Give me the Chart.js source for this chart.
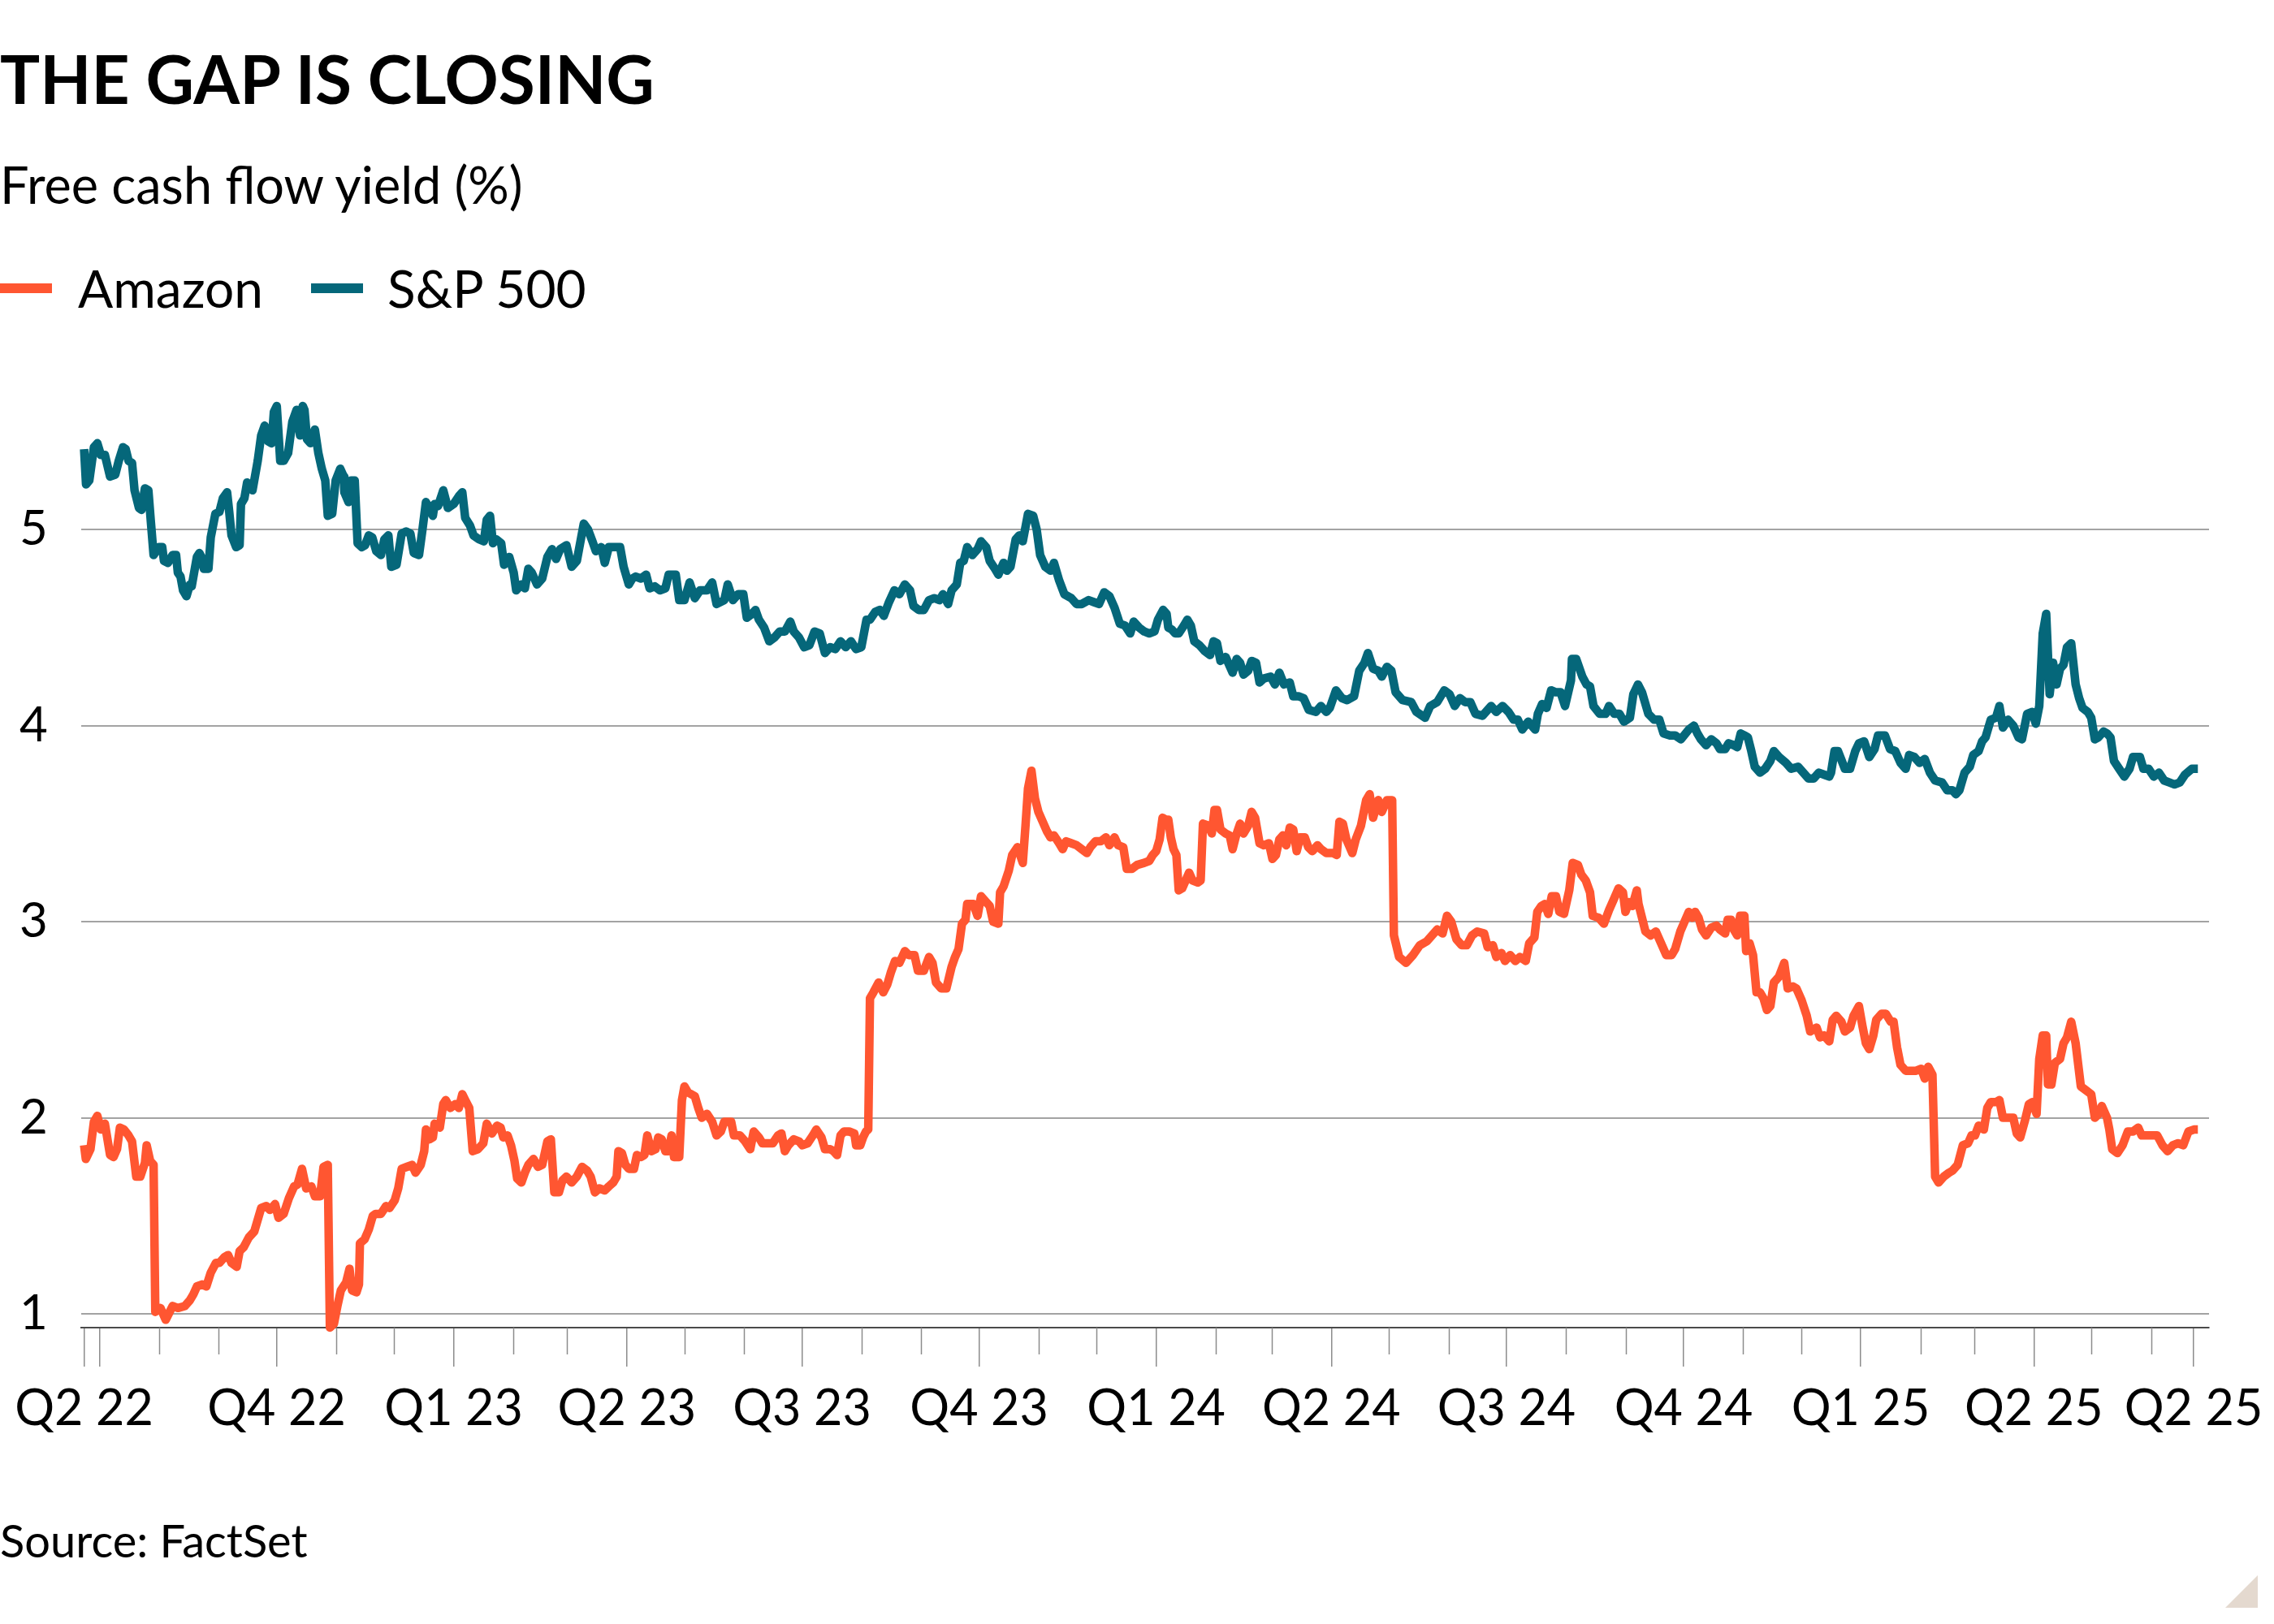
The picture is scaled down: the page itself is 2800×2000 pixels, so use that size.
<!DOCTYPE html>
<html>
<head>
<meta charset="utf-8">
<script src="https://cdn.jsdelivr.net/npm/chart.js@4.4.1/dist/chart.umd.min.js"></script>
<style>
html,body{margin:0;padding:0;background:#fff;}
body{width:2800px;height:2000px;position:relative;overflow:hidden;font-family:Lato,"Open Sans",sans-serif;color:#000;}
.t{position:absolute;white-space:nowrap;line-height:1.2;}
#title{left:0;top:47px;font-size:82px;font-weight:700;}
#sub{left:0;top:189px;font-size:63px;}
.leg{top:317px;font-size:64px;}
.sw{position:absolute;height:12px;top:349px;width:64px;}
#source{left:0;top:1863px;font-size:56px;}
#wrap{position:absolute;left:0;top:0;width:2800px;height:2000px;}
#corner{position:absolute;right:20px;bottom:20px;width:0;height:0;border-left:40px solid transparent;border-bottom:40px solid #e4d9cf;}
</style>
</head>
<body>
<div id="wrap"><canvas id="c"></canvas></div>
<div class="t" id="title">THE GAP IS CLOSING</div>
<div class="t" id="sub">Free cash flow yield (%)</div>
<div class="sw" style="left:0;background:#ff5631;"></div>
<div class="t leg" style="left:96px;">Amazon</div>
<div class="sw" style="left:383px;background:#05677a;"></div>
<div class="t leg" style="left:477px;">S&amp;P 500</div>
<div class="t" id="source">Source: FactSet</div>
<div id="corner"></div>
<script>
// ---- DATA (x = days since startDate) ----
const startDate = '2022-06-23';
const seriesNames = ['Amazon', 'S&P 500'];

const spDays = [
0,1,2.7,5.1,6.9,8.7,10.8,13.5,16.2,18,
20.2,21.6,23.1,24.9,26.2,28.5,29.8,31.6,33.4,34.6,
36.1,38.8,40.6,41.5,43.6,46,47.8,48.7,50.1,51.4,
53.2,55,55.9,58.6,59.9,60.9,62.2,64.6,65.8,68.2,
70.3,72.1,74.3,75.4,76.6,79,80.8,81.5,83.3,84.7,
87.5,90.2,92,93.8,95.6,97.4,98.6,100.1,101.9,103.7,
106,108.2,110.4,112.2,113.6,114.5,115.8,117.6,119.9,121.7,
123.5,125.3,126.6,128.9,130.7,133.1,134.9,135.2,137.4,138.8,
140.6,142.1,144.3,146,147.9,149.7,151.8,154.2,156,158.1,
159.6,162.3,165,167.3,169.5,171.3,174,175.8,177.6,181.2,
182.1,183.9,186.6,189,192,194.7,196.5,198,200.5,202.3,
205.2,207.7,209.2,210.9,212.4,214.2,216.7,218.2,220.9,223.2,
224.5,227.2,229,230.8,232.6,235.3,238,240.7,243.1,245.2,
247.4,250.6,253.3,256,259.6,261.8,264.1,265.9,268.7,270.5,
272.6,274.9,278.5,280.3,283,284.8,286.6,289.3,292,293.8,
296.5,299.2,302,303.7,307.4,309.2,311.9,314.6,317.3,320,
323.6,326.3,328.6,332.6,334.4,337.1,339.8,342.5,344.3,347,
348.8,350.6,353.3,356,358.7,361.4,364.1,366.9,368.7,371.4,
374.1,376.8,379.5,382.2,384.9,387.6,390.3,393,395.7,398.4,
401.1,403.8,406.5,408.3,411,413.4,415.5,418.2,421,423.6,
426.4,429.1,430.9,433.6,436.3,439,441.7,444.4,446.2,448.9,
450.7,453.4,455.2,457,458.8,461.5,464.2,466,468.7,470.5,
473.2,475,477.7,479.5,481.3,484,485.8,487.7,490.4,493.1,
494.9,496.7,499.4,502.1,503.9,506.6,509.3,512.9,515.6,518.3,
521.9,524.6,527.3,530,532.7,535.4,538.1,540.8,543.5,545.3,
548.1,550.8,553.4,556.1,557.9,560.6,562.4,563.3,565.1,566.9,
568.7,571.4,573.2,575,576.8,579.5,582.2,585,586.8,588.6,
590.4,593.1,596.7,598.8,600.6,602.4,604.8,606.6,608.9,610.7,
612.9,616.5,618.7,621,623.4,626.4,628.2,630.9,633.6,636.3,
640,642.6,645.4,647.2,650.4,653.5,656.2,659.8,662.5,665.2,
667,669.7,672.4,674.2,676.9,679.2,681.4,685,689.5,692.2,
696.7,699.4,703,706.7,709.4,712.1,714.8,717.5,720.2,722.9,
726.5,731,733.7,737,740,742.7,744.9,747.2,750.3,753.9,
755.3,757.5,759.8,762.2,764.7,767.1,769.4,772.5,773,775.2,
778.4,780.6,782.4,784.2,787.4,790.5,792.3,795,797.7,800,
803.1,804.9,807.3,809.4,812.7,815.7,818.4,820.6,823.9,826.6,
829.6,833.7,836.4,838.2,840,842.7,845.4,848.1,849.9,852.6,
854.4,857.1,858.9,860.7,862.6,864.4,866.2,868,870.7,873.4,
876.1,877.9,880.6,884.2,886.9,890.5,893.2,895.9,898.6,901.3,
904,906.7,907.6,909.4,911.2,914.8,917.5,920.2,922.1,924.8,
927.5,930.2,932,935.6,938.3,941,943.7,946.4,948.2,950.9,
953.6,956.3,959,961.7,965.3,968,970.7,972.5,974.3,977,
979.7,981.5,984.3,986.1,987.9,990.6,993.3,995.1,996.9,999.6,
1002.3,1005,1006.8,1009.5,1012.2,1014,1015.8,1017.6,1019.4,1021.2,
1023,1024.8,1026.6,1028.4,1030.2,1032.4,1034.7,1036.5,1038.3,1041,
1042.8,1044.7,1046.5,1049.2,1051,1052.8,1054.6,1057.3,1060,1062.7,
1064.5,1068.1,1069.9,1072.6,1075.3,1078,1080.7,1083.4,1086.1,1088.8,
1091.5,1095.1,1098.2
];
const spValues = [
5.41,5.23,5.25,5.42,5.44,5.38,5.38,5.27,5.28,5.35,
5.42,5.41,5.35,5.34,5.20,5.11,5.10,5.21,5.20,5.05,
4.87,4.91,4.91,4.84,4.83,4.87,4.87,4.78,4.76,4.69,
4.66,4.72,4.71,4.86,4.88,4.86,4.80,4.80,4.96,5.08,
5.09,5.16,5.19,5.09,4.97,4.91,4.92,5.13,5.16,5.24,
5.20,5.35,5.48,5.53,5.45,5.44,5.60,5.63,5.35,5.35,
5.39,5.55,5.61,5.48,5.63,5.61,5.46,5.44,5.51,5.39,
5.31,5.25,5.07,5.08,5.25,5.31,5.27,5.19,5.14,5.25,
5.25,4.93,4.91,4.92,4.97,4.96,4.89,4.87,4.95,4.97,
4.81,4.82,4.98,4.99,4.98,4.88,4.87,5.00,5.14,5.07,
5.13,5.12,5.20,5.11,5.13,5.17,5.19,5.06,5.02,4.97,
4.95,4.94,5.05,5.07,4.93,4.95,4.93,4.82,4.86,4.78,
4.69,4.72,4.70,4.80,4.78,4.72,4.75,4.86,4.90,4.85,
4.90,4.92,4.81,4.84,5.03,5.00,4.94,4.89,4.91,4.83,
4.91,4.91,4.91,4.81,4.72,4.75,4.76,4.75,4.77,4.70,
4.71,4.69,4.70,4.77,4.77,4.64,4.64,4.73,4.65,4.69,
4.69,4.73,4.62,4.64,4.72,4.64,4.67,4.67,4.55,4.57,
4.59,4.54,4.50,4.43,4.45,4.48,4.48,4.53,4.48,4.45,
4.40,4.41,4.48,4.47,4.37,4.40,4.39,4.43,4.40,4.43,
4.39,4.40,4.54,4.54,4.58,4.59,4.56,4.63,4.69,4.67,
4.72,4.69,4.61,4.59,4.59,4.64,4.65,4.64,4.67,4.62,
4.69,4.72,4.83,4.84,4.91,4.87,4.90,4.94,4.91,4.84,
4.80,4.77,4.83,4.79,4.81,4.95,4.97,4.94,5.08,5.07,
5.00,4.87,4.81,4.79,4.83,4.74,4.67,4.65,4.62,4.62,
4.64,4.63,4.62,4.68,4.66,4.60,4.52,4.51,4.47,4.53,
4.50,4.48,4.47,4.48,4.54,4.59,4.57,4.50,4.49,4.47,
4.47,4.51,4.54,4.51,4.43,4.41,4.38,4.36,4.43,4.42,
4.33,4.35,4.27,4.34,4.32,4.26,4.28,4.33,4.32,4.22,
4.24,4.25,4.21,4.27,4.21,4.22,4.15,4.15,4.14,4.08,
4.07,4.10,4.07,4.09,4.18,4.14,4.13,4.15,4.28,4.32,
4.37,4.29,4.28,4.25,4.30,4.28,4.17,4.13,4.12,4.07,
4.04,4.10,4.12,4.18,4.16,4.10,4.14,4.12,4.12,4.06,
4.05,4.10,4.07,4.10,4.07,4.03,4.03,3.98,4.02,3.98,
4.06,4.11,4.09,4.18,4.17,4.17,4.10,4.23,4.34,4.34,
4.25,4.21,4.20,4.10,4.06,4.06,4.10,4.06,4.06,4.02,
4.04,4.16,4.21,4.17,4.06,4.03,4.03,3.96,3.95,3.95,
3.93,3.98,4.00,3.96,3.93,3.90,3.93,3.91,3.88,3.88,
3.91,3.90,3.89,3.96,3.95,3.94,3.87,3.79,3.76,3.78,
3.82,3.87,3.84,3.81,3.78,3.79,3.76,3.73,3.73,3.76,
3.75,3.74,3.76,3.87,3.87,3.78,3.78,3.87,3.91,3.92,
3.84,3.88,3.95,3.95,3.88,3.87,3.81,3.78,3.85,3.84,
3.81,3.83,3.76,3.72,3.71,3.67,3.67,3.65,3.67,3.76,
3.79,3.85,3.87,3.92,3.94,4.03,4.04,4.10,3.99,4.03,
4.00,3.94,3.93,4.06,4.07,4.01,4.10,4.47,4.57,4.16,
4.32,4.21,4.29,4.31,4.40,4.42,4.21,4.14,4.09,4.07,
4.04,3.93,3.94,3.97,3.96,3.94,3.82,3.78,3.74,3.78,
3.84,3.84,3.78,3.78,3.74,3.76,3.72,3.71,3.70,3.71,
3.75,3.78,3.78
];

const amazonDays = [
0,0.9,3.3,5.1,6.9,8.7,10.8,13.5,15.3,17.1,
18.6,20.7,23.1,24.9,27.1,29.2,31.6,32.5,34.3,36.1,
37,39.7,42.4,46,48.7,52.3,55,56.8,58.6,61.3,
63.5,65.8,68.5,70.3,73,74.8,76.6,79.3,80.8,82.9,
85.6,88.4,90.2,92,94.7,96.5,99.2,101,103.7,106.4,
109.1,110.9,113.2,115.4,118.1,119.9,122.6,124.4,126.6,127.7,
129.8,131.6,133.4,136.1,137.9,139.2,141.5,142.8,143.3,145.7,
147.9,150,151.5,154.2,156.9,158.7,161.4,163.2,165,167.7,
170.4,172.2,174.9,176.7,177.6,179.4,181.2,182.1,184.8,186.6,
187.9,190.2,192.9,194.7,196.5,198,200.1,201.9,204.6,207.4,
209.2,211.9,214.6,216.4,217.8,220,221.8,223.6,225,227.2,
229,230.8,233.5,235.8,238,240.7,242.5,244.3,246.7,248.5,
250.6,253.3,256,258.7,261.4,263.2,265.4,267.7,270.5,272.6,
274.9,276.7,277.6,279.4,281.2,283,285.7,287.2,289.3,291.1,
292.6,294.7,296.9,298.3,300.1,302,303.7,305.2,306.5,309.2,
310.6,311.9,313.7,317.3,319.1,320.9,323.6,326.3,328.6,330.8,
332.6,336.2,337.6,340.7,343.4,346.1,347.9,350.6,352.4,357.8,
360.5,362.3,364.1,365.9,368.7,371.4,373.2,375.9,378.6,380.4,
383.1,384.9,387.6,389.4,391.2,393,394.8,397.5,400.2,401.1,
403.3,404.7,406.2,407.4,408.3,410.1,412.8,415.2,417.3,419.1,
421.3,423.6,426.4,428.5,431.4,433.2,436.3,439,440.8,442.6,
445.3,448,450.7,452.5,454.3,456.1,457.9,458.8,462,464.2,
466,468.7,470.5,472.3,475,475.9,477.7,480.4,482.2,484.9,
487.7,489.1,490.4,492.2,494,495.8,497.6,500.3,502.1,503.9,
506.6,508.4,510.2,512.9,515.6,518.3,521,522.8,525.5,528.2,
530.9,532.7,535.4,537.2,539.9,541.7,544.4,547.2,550.8,553.4,
555.2,557,558.8,560.3,562.1,563.3,564.6,566,567.5,568.7,
570.5,572.3,574.1,575.9,578.6,580.1,581.3,584.1,585.9,587.3,
588.6,590.4,593.1,595.2,596.7,598.5,600.6,602.4,604.8,606.6,
608.4,610.7,612.9,615.6,617.4,619.2,621,622.8,624.6,626.4,
628.2,630,631.8,634.2,636,638.1,640.8,642.6,645.4,649,
650.8,652.2,654,655.8,658.9,660.7,663.4,666.1,667.9,669.7,
672.4,674.2,676.9,679.6,680.5,683.2,686.8,690.4,694,697.6,
700.3,703,705.8,708.1,710.3,713,715.7,718.4,721.1,723.8,
727.4,729.2,731.9,733.7,736.4,738.2,740.9,743.6,746,749,
750.8,753.5,755,757.1,758.9,760.7,762.5,764.7,766.5,768.9,
771.6,773.4,776.1,777.9,780.2,782.4,783.8,786.9,789.6,792.3,
795,797.2,799.5,800.8,802.6,804.4,806.7,807.6,809.4,811.2,
813.9,816.6,819.3,822,824.8,826.6,829.3,833.7,835.5,837,
838.8,840.6,842.7,845.4,848.1,849.9,852.6,853.9,855.7,857.1,
858.9,860.4,862.6,863.5,865.3,867.1,868.9,870.7,872.5,874.3,
876.1,877.9,880.6,883.3,885.1,887.8,889.6,892.3,895,896.8,
900.1,901.9,904,906.7,908.5,910.3,913,914.8,917.5,919.3,
922.1,923.9,925.7,927.5,929.6,931.1,933.8,936.1,938.6,940.1,
941.9,943.7,946.4,950,951.8,954.5,956.3,958.1,960.3,961.7,
963.5,966.2,968.9,970.7,973.4,976.1,978.8,980.6,982.4,984.3,
987,988.8,990.6,993.3,995.1,996.9,999.6,1002.3,1004.1,1005.9,
1008.2,1010.4,1012.2,1014.4,1015.8,1017.6,1019.4,1020.3,1022.1,1023.9,
1026.6,1028.4,1030.2,1032.4,1034.7,1037.4,1040.1,1042.8,1044.7,1046.8,
1048.3,1051,1052.2,1053.7,1056.4,1059.1,1061.8,1064.5,1067.2,1069,
1071.7,1074.4,1077.1,1079.8,1082.5,1085.2,1087.9,1090.6,1093.3,1096.1,
1098.2
];
const amazonValues = [
1.86,1.79,1.84,1.98,2.01,1.94,1.97,1.81,1.80,1.84,
1.95,1.94,1.91,1.88,1.70,1.70,1.77,1.86,1.78,1.76,
1.01,1.03,0.97,1.04,1.03,1.04,1.07,1.10,1.14,1.15,
1.14,1.21,1.26,1.26,1.29,1.30,1.26,1.24,1.32,1.34,
1.39,1.42,1.48,1.54,1.55,1.53,1.56,1.49,1.51,1.59,
1.65,1.66,1.74,1.64,1.65,1.60,1.60,1.75,1.76,0.93,
0.95,1.04,1.12,1.16,1.23,1.12,1.11,1.15,1.36,1.38,
1.43,1.50,1.51,1.51,1.55,1.54,1.58,1.64,1.74,1.75,
1.76,1.72,1.76,1.83,1.94,1.89,1.90,1.97,1.95,2.07,
2.09,2.05,2.07,2.05,2.12,2.09,2.05,1.83,1.84,1.87,
1.97,1.92,1.96,1.95,1.90,1.91,1.86,1.78,1.69,1.67,
1.72,1.76,1.79,1.75,1.76,1.88,1.89,1.62,1.62,1.68,
1.70,1.67,1.70,1.75,1.73,1.70,1.62,1.64,1.63,1.65,
1.67,1.70,1.83,1.82,1.76,1.74,1.74,1.81,1.80,1.81,
1.91,1.83,1.84,1.90,1.89,1.83,1.83,1.91,1.80,1.80,
2.09,2.16,2.13,2.11,2.05,2.00,2.02,1.98,1.91,1.93,
1.98,1.98,1.91,1.91,1.88,1.84,1.93,1.90,1.87,1.87,
1.91,1.92,1.83,1.86,1.89,1.88,1.86,1.87,1.91,1.94,
1.90,1.84,1.84,1.83,1.81,1.91,1.93,1.93,1.92,1.86,
1.86,1.90,1.93,1.94,2.61,2.64,2.69,2.64,2.68,2.74,
2.80,2.79,2.85,2.83,2.83,2.75,2.75,2.82,2.79,2.69,
2.66,2.66,2.77,2.82,2.86,2.99,3.01,3.09,3.09,3.03,
3.13,3.10,3.08,3.00,2.99,3.15,3.18,3.26,3.34,3.38,
3.30,3.49,3.68,3.77,3.63,3.56,3.52,3.46,3.43,3.44,
3.40,3.37,3.41,3.40,3.39,3.37,3.35,3.38,3.41,3.41,
3.43,3.39,3.43,3.39,3.38,3.27,3.27,3.29,3.30,3.31,
3.34,3.36,3.42,3.53,3.52,3.52,3.43,3.37,3.34,3.16,
3.17,3.21,3.25,3.21,3.20,3.21,3.50,3.49,3.45,3.57,
3.57,3.47,3.45,3.44,3.37,3.44,3.50,3.45,3.49,3.56,
3.53,3.40,3.39,3.40,3.32,3.34,3.42,3.44,3.39,3.48,
3.47,3.36,3.43,3.43,3.38,3.36,3.39,3.37,3.35,3.35,
3.34,3.51,3.50,3.42,3.35,3.42,3.49,3.62,3.65,3.53,
3.62,3.56,3.62,3.62,2.93,2.82,2.79,2.83,2.88,2.90,
2.93,2.96,2.94,3.03,3.00,2.91,2.88,2.88,2.93,2.95,
2.94,2.87,2.88,2.82,2.84,2.80,2.83,2.80,2.82,2.80,
2.89,2.92,3.05,3.08,3.09,3.04,3.13,3.13,3.05,3.04,
3.16,3.30,3.29,3.24,3.21,3.15,3.03,3.02,2.99,3.06,
3.12,3.17,3.15,3.05,3.10,3.08,3.16,3.09,3.02,2.95,
2.93,2.95,2.89,2.83,2.83,2.86,2.95,3.05,3.02,3.05,
3.02,2.96,2.93,2.97,2.98,2.96,2.94,3.01,3.01,2.96,
2.93,3.03,3.03,2.85,2.89,2.83,2.64,2.64,2.61,2.55,
2.57,2.69,2.72,2.79,2.66,2.67,2.66,2.60,2.52,2.44,
2.46,2.41,2.42,2.39,2.50,2.52,2.49,2.44,2.46,2.52,
2.57,2.47,2.38,2.35,2.42,2.50,2.53,2.53,2.49,2.49,
2.36,2.27,2.24,2.24,2.24,2.25,2.20,2.26,2.22,1.70,
1.67,1.70,1.72,1.73,1.76,1.86,1.87,1.91,1.91,1.96,
1.94,2.05,2.08,2.08,2.09,2.00,2.00,2.00,1.92,1.90,
1.98,2.07,2.08,2.02,2.30,2.42,2.42,2.17,2.17,2.28,
2.30,2.38,2.41,2.49,2.38,2.16,2.14,2.12,2.00,2.02,
2.06,2.00,1.94,1.84,1.82,1.86,1.93,1.93,1.95,1.91,
1.91,1.91,1.91,1.86,1.83,1.86,1.87,1.86,1.93,1.94,
1.94
];

// Axis ticks (quarter boundaries plus first/last date) and labels
const tickDates = ['2022-06-23','2022-07-01','2022-10-01','2023-01-01','2023-04-01','2023-07-01','2023-10-01',
  '2024-01-01','2024-04-01','2024-07-01','2024-10-01','2025-01-01','2025-04-01','2025-06-23'];
const tickLabels = ['Q2 22','','Q4 22','Q1 23','Q2 23','Q3 23','Q4 23','Q1 24','Q2 24','Q3 24','Q4 24','Q1 25','Q2 25','Q2 25'];
const yTicks = [1, 2, 3, 4, 5];

const colors = { amazon: '#ff5631', sp: '#05677a' };

// ---- CHART ----
const DAY = 86400000;
const t0 = Date.parse(startDate + 'T00:00:00Z');
const dayOf = s => (Date.parse(s + 'T00:00:00Z') - t0) / DAY;
const tickDays = tickDates.map(dayOf);

// month starts (minor ticks) that are not quarter starts
const minorTickDays = [];
for (let y = 2022; y <= 2025; y++) {
  for (let m = 0; m < 12; m++) {
    if (m % 3 === 0) continue;
    const d = (Date.UTC(y, m, 1) - t0) / DAY;
    if (d > 0 && d < 1100) minorTickDays.push(d);
  }
}

const minorTicks = {
  id: 'minorTicks',
  afterDraw(chart) {
    const s = chart.scales.x, ctx = chart.ctx;
    ctx.save();
    ctx.strokeStyle = '#8c8c8c';
    ctx.lineWidth = 1.5;
    minorTickDays.forEach(d => {
      const px = Math.round(s.getPixelForValue(d)) + 0.5;
      ctx.beginPath();
      ctx.moveTo(px, s.top);
      ctx.lineTo(px, s.top + 33);
      ctx.stroke();
    });
    ctx.restore();
  }
};

const lineStyle = {
  borderWidth: 10.5, pointRadius: 0, tension: 0, fill: false,
  borderJoinStyle: 'round', borderCapStyle: 'butt', clip: false
};

new Chart(document.getElementById('c'), {
  type: 'line',
  data: {
    datasets: [
      Object.assign({ label: seriesNames[1], borderColor: colors.sp,
        data: spDays.map((d, i) => ({ x: d, y: spValues[i] })) }, lineStyle),
      Object.assign({ label: seriesNames[0], borderColor: colors.amazon,
        data: amazonDays.map((d, i) => ({ x: d, y: amazonValues[i] })) }, lineStyle)
    ]
  },
  options: {
    responsive: true,
    maintainAspectRatio: false,
    animation: false,
    events: [],
    layout: { padding: { left: 24, right: 80, top: 471, bottom: 215 } },
    plugins: { legend: { display: false }, tooltip: { enabled: false }, title: { display: false } },
    scales: {
      x: {
        type: 'linear',
        min: -1.5,
        max: 1104,
        afterBuildTicks: s => { s.ticks = tickDays.map(v => ({ value: v })); },
        afterFit: s => { s.height = 150; s.paddingLeft = 0; s.paddingRight = 0; },
        grid: { drawOnChartArea: false, drawTicks: true, tickLength: 48, color: '#8c8c8c', lineWidth: 1.5 },
        border: { display: true, color: '#4a4a4a', width: 2 },
        ticks: {
          autoSkip: false, maxRotation: 0, minRotation: 0, padding: 16,
          color: '#000', font: { family: 'Lato', size: 61 },
          callback: (v, i) => tickLabels[i]
        }
      },
      y: {
        type: 'linear',
        min: 0.93,
        max: 5.75,
        afterBuildTicks: s => { s.ticks = yTicks.map(v => ({ value: v })); },
        afterFit: s => { s.width = 76; },
        grid: { drawTicks: false, color: '#a3a3a3', lineWidth: 2 },
        border: { display: false },
        ticks: {
          crossAlign: 'far', padding: 0,
          color: '#000', font: { family: 'Lato', size: 60 },
          callback: v => String(v)
        }
      }
    }
  },
  plugins: [minorTicks]
});
</script>
</body>
</html>
